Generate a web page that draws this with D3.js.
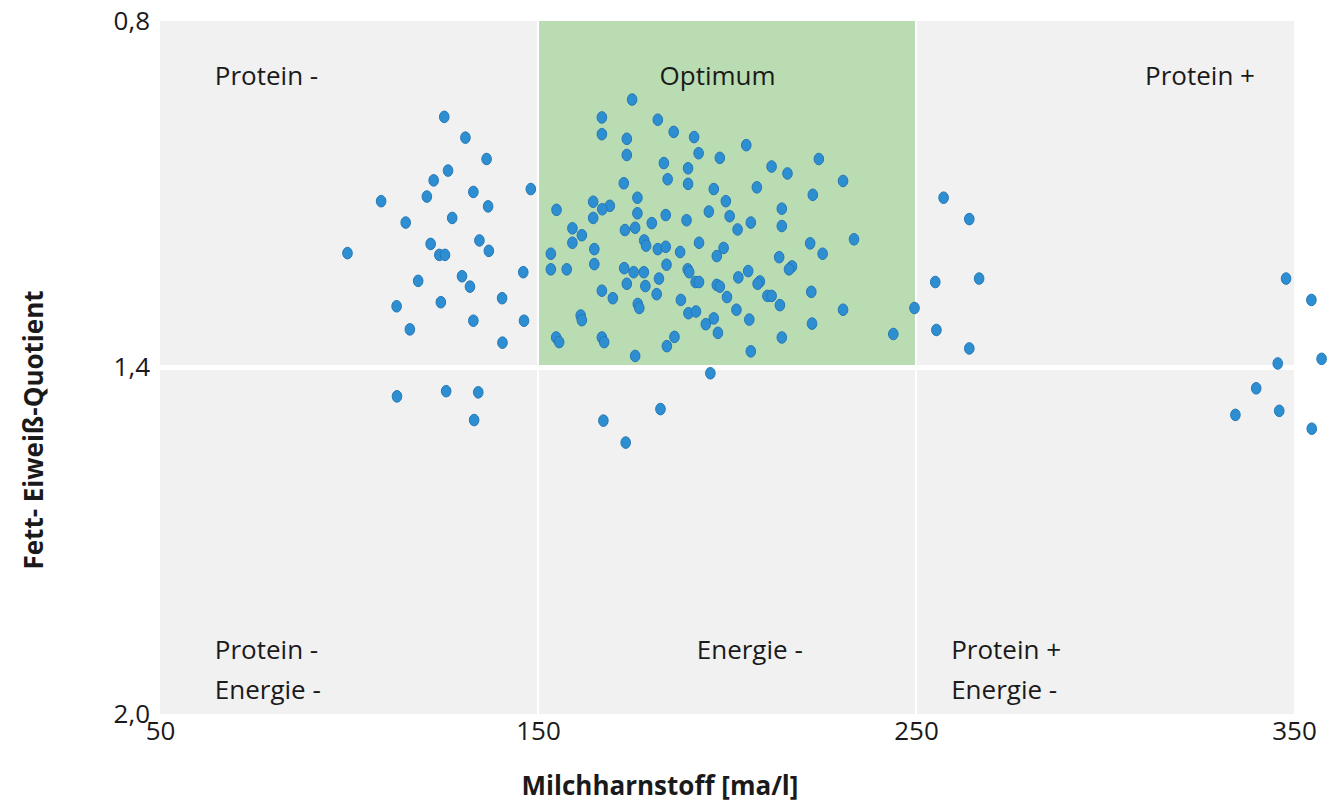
<!DOCTYPE html>
<html lang="de">
  <head>
    <meta charset="utf-8">
    <title>Fett-Eiweiß-Quotient</title>
    <script src="https://d3js.org/d3.v7.min.js"></script>
    <style>
      body { margin: 0; background: #fff; }
      text { font-family: "Open Sans", sans-serif; fill: #1a1a1a; }
    </style>
  </head>
  <body>
    <script>
// Milchharnstoff [mg/l] per cow
const urea = [
  125.2, 130.8, 136.4, 126.2, 122.4, 120.6, 132.9, 148.1, 108.5, 136.8,
  115.0, 127.3, 121.6, 134.5, 99.6, 123.9, 125.4, 137.0, 146.1, 118.3,
  129.9, 132.0, 112.6, 124.3, 140.5, 116.1, 132.9, 146.3, 140.6, 112.7,
  125.7, 134.2, 133.1,
  174.9, 166.9, 181.7, 166.9, 185.9, 191.3, 173.5, 173.5, 192.5, 198.1,
  183.3, 189.7, 184.3, 189.7, 172.7, 196.5, 176.3, 164.6, 199.7, 169.0,
  167.0, 154.9, 176.3, 195.2, 183.8, 200.7, 164.6, 180.1, 189.3, 202.8,
  159.1, 161.6, 173.0, 175.7, 159.1, 164.9, 178.1, 178.6, 181.7, 183.8,
  187.6, 192.6, 199.1, 197.3, 153.4, 164.9, 184.0,
  153.4, 157.6, 172.8, 175.3, 178.0, 189.6, 190.0, 182.0, 191.7, 192.6,
  197.3, 198.1, 203.0, 173.5, 178.4, 166.9, 169.8, 181.4, 187.8, 200.0,
  202.5, 176.4, 176.8, 161.3, 161.6, 189.8, 191.8, 196.5, 194.4, 197.6,
  154.8, 155.6, 166.9, 167.5, 186.1, 184.1, 175.7, 195.6, 182.4, 167.3,
  173.2,
  205.1, 224.3, 211.8, 216.0, 230.7, 207.9, 222.7, 257.3, 214.5, 264.1,
  206.3, 214.5, 233.6, 222.0, 225.3, 213.8, 205.6, 217.2, 216.4, 208.7,
  208.1, 255.1, 266.7, 222.3, 210.7, 211.8, 214.0, 230.7, 249.6, 205.9,
  222.5, 255.4, 214.5, 244.0, 206.3, 264.1,
  347.9, 354.6, 345.7, 357.3, 340.0, 334.5, 346.1, 354.7
]

// Fett-Eiweiß-Quotient per cow
const feq = [
  0.966, 1.002, 1.039, 1.059, 1.076, 1.104, 1.096, 1.091, 1.112, 1.121,
  1.149, 1.141, 1.186, 1.180, 1.202, 1.205, 1.205, 1.198, 1.235, 1.250,
  1.242, 1.260, 1.294, 1.287, 1.280, 1.334, 1.319, 1.319, 1.357, 1.450,
  1.441, 1.443, 1.491,
  0.936, 0.967, 0.971, 0.996, 0.992, 1.001, 1.004, 1.032, 1.029, 1.037,
  1.046, 1.055, 1.074, 1.082, 1.081, 1.091, 1.106, 1.113, 1.112, 1.120,
  1.126, 1.127, 1.133, 1.130, 1.136, 1.138, 1.141, 1.150, 1.145, 1.161,
  1.159, 1.171, 1.162, 1.158, 1.184, 1.195, 1.180, 1.189, 1.195, 1.191,
  1.200, 1.184, 1.193, 1.207, 1.203, 1.221, 1.222,
  1.230, 1.230, 1.228, 1.235, 1.235, 1.230, 1.235, 1.246, 1.252, 1.252,
  1.257, 1.260, 1.244, 1.255, 1.259, 1.267, 1.280, 1.273, 1.283, 1.278,
  1.300, 1.290, 1.297, 1.310, 1.318, 1.306, 1.303, 1.315, 1.325, 1.340,
  1.348, 1.356, 1.348, 1.356, 1.347, 1.363, 1.380, 1.410, 1.472, 1.492,
  1.530,
  1.015, 1.039, 1.052, 1.064, 1.077, 1.088, 1.101, 1.106, 1.125, 1.143,
  1.149, 1.155, 1.178, 1.185, 1.203, 1.209, 1.233, 1.225, 1.230, 1.251,
  1.255, 1.252, 1.246, 1.269, 1.276, 1.276, 1.292, 1.300, 1.297, 1.317,
  1.324, 1.335, 1.348, 1.342, 1.372, 1.367,
  1.246, 1.283, 1.393, 1.385, 1.436, 1.482, 1.475, 1.506
]

const xTicks = [50, 150, 250, 350]
const yTicks = [0.8, 1.4, 2.0]

// optimum window
const optimumX = [150, 250]
const optimumY = [0.8, 1.4]

// zone labels: [x, y, lines, anchor]
const zoneLabels = [
  [64.5, 0.91, ['Protein -'], 'start'],
  [197.5, 0.91, ['Optimum'], 'middle'],
  [310.6, 0.91, ['Protein +'], 'start'],
  [64.5, 1.905, ['Protein -', 'Energie -'], 'start'],
  [192, 1.905, ['Energie -'], 'start'],
  [259.3, 1.905, ['Protein +', 'Energie -'], 'start']
]

const width = 1330
const height = 803

const x = d3.scaleLinear().domain([50, 350]).range([160, 1294])
const y = d3.scaleLinear().domain([0.8, 2.0]).range([21, 714])

const de = d3.formatLocale({ decimal: ',', thousands: '.', grouping: [3], currency: ['', ' €'] })

const svg = d3.select('body')
  .append('svg')
  .attr('width', width)
  .attr('height', height)

// background
svg.append('rect')
  .attr('x', x(50))
  .attr('y', y(0.8))
  .attr('width', x(350) - x(50))
  .attr('height', y(2.0) - y(0.8))
  .attr('fill', '#f1f1f1')

svg.append('rect')
  .attr('x', x(optimumX[0]))
  .attr('y', y(optimumY[0]))
  .attr('width', x(optimumX[1]) - x(optimumX[0]))
  .attr('height', y(optimumY[1]) - y(optimumY[0]))
  .attr('fill', '#badcb2')

// dividing lines
svg.selectAll('line.vdiv')
  .data(optimumX)
  .join('line')
  .attr('class', 'vdiv')
  .attr('x1', d => x(d))
  .attr('x2', d => x(d))
  .attr('y1', y(0.8))
  .attr('y2', y(2.0))
  .attr('stroke', '#fff')
  .attr('stroke-width', 2)

svg.append('line')
  .attr('x1', x(50))
  .attr('x2', x(350))
  .attr('y1', y(1.4))
  .attr('y2', y(1.4))
  .attr('stroke', '#fff')
  .attr('stroke-width', 5)

// zone labels
zoneLabels.forEach(([lx, ly, lines, anchor]) => {
  const t = svg.append('text')
    .attr('x', x(lx))
    .attr('y', y(ly))
    .attr('text-anchor', anchor)
    .style('font-size', '26px')
  lines.forEach((s, i) => {
    t.append('tspan')
      .attr('x', x(lx))
      .attr('dy', i === 0 ? 0 : 40)
      .text(s)
  })
})

// points
svg.append('g')
  .selectAll('ellipse')
  .data(urea.map((u, i) => [u, feq[i]]))
  .join('ellipse')
  .attr('cx', d => x(d[0]))
  .attr('cy', d => y(d[1]))
  .attr('rx', 4.8)
  .attr('ry', 5.8)
  .attr('fill', '#2d8fd2')
  .attr('stroke', '#2577b5')
  .attr('stroke-width', 1)

// axes
const xAxis = svg.append('g')
  .attr('transform', `translate(0, ${y(2.0)})`)
  .call(d3.axisBottom(x).tickValues(xTicks).tickSize(0).tickPadding(8).tickFormat(d3.format('d')))
xAxis.select('.domain').remove()
xAxis.selectAll('text').style('font-size', '26px').attr('font-family', null).attr('fill', null)

const yAxis = svg.append('g')
  .attr('transform', `translate(${x(50) - 10}, 0)`)
  .call(d3.axisLeft(y).tickValues(yTicks).tickSize(0).tickPadding(0).tickFormat(de.format('.1f')))
yAxis.select('.domain').remove()
yAxis.selectAll('text').style('font-size', '26px').attr('font-family', null).attr('fill', null)

svg.append('text')
  .attr('x', 660)
  .attr('y', 795)
  .attr('text-anchor', 'middle')
  .style('font-size', '26px')
  .style('font-weight', 'bold')
  .text('Milchharnstoff [ma/l]')

svg.append('text')
  .attr('transform', `translate(43, 430) rotate(-90)`)
  .attr('text-anchor', 'middle')
  .style('font-size', '26px')
  .style('font-weight', 'bold')
  .text('Fett- Eiweiß-Quotient')
    </script>
  </body>
</html>
